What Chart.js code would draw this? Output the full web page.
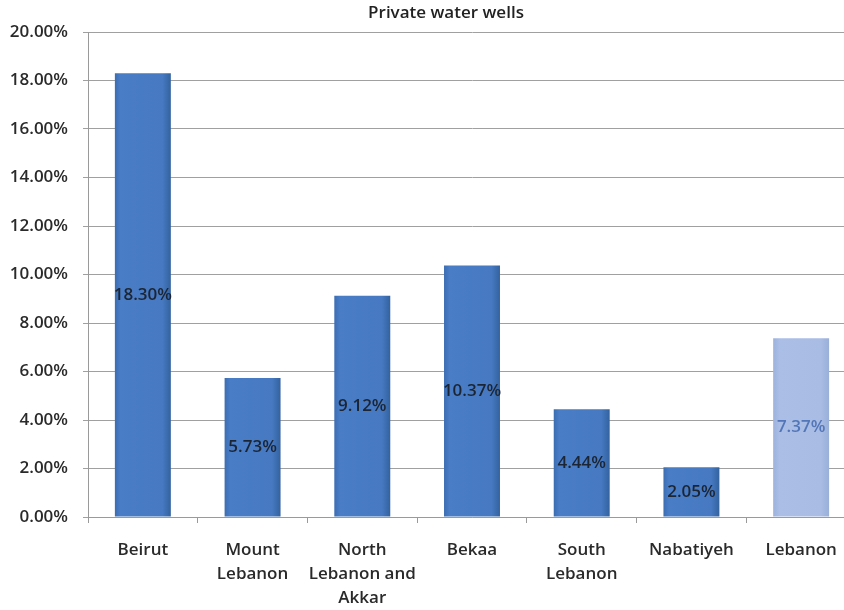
<!DOCTYPE html>
<html>
<head>
<meta charset="utf-8">
<script src="https://cdn.jsdelivr.net/npm/chart.js@4"></script>
<style>
  html, body { margin: 0; padding: 0; background: #fff; overflow: hidden; }
  #wrap { width: 844px; height: 610px; overflow: hidden; }
  #chart_wells { display: block; }
</style>
</head>
<body>
<!-- plot runs a little past the right edge of the frame -->
<div id="wrap"><canvas id="chart_wells" width="856" height="610"></canvas></div>
<script>
const chartTitle = 'Private water wells';
const regions = ['Beirut', ['Mount', 'Lebanon'], ['North', 'Lebanon and', 'Akkar'], 'Bekaa', ['South', 'Lebanon'], 'Nabatiyeh', 'Lebanon'];
const wellShare = [18.30, 5.73, 9.12, 10.37, 4.44, 2.05, 7.37];
const yTicks = [0, 2, 4, 6, 8, 10, 12, 14, 16, 18, 20];

const FONT = '"Open Sans", "Liberation Sans", sans-serif';
const lastIdx = wellShare.length - 1;

// horizontal shading on each bar, national average drawn lighter
function barFill(ctx) {
  const chart = ctx.chart;
  const xs = chart.scales.x;
  const flat = ctx.dataIndex === lastIdx ? '#a6bae2' : '#4679c0';
  if (!xs || ctx.dataIndex === undefined) return flat;
  const cx = xs.getPixelForValue(ctx.dataIndex);
  if (!isFinite(cx)) return flat;
  const half = 28;
  const g = chart.ctx.createLinearGradient(cx - half, 0, cx + half, 0);
  if (ctx.dataIndex === lastIdx) {
    g.addColorStop(0, '#9db2dc');
    g.addColorStop(0.12, '#aabee6');
    g.addColorStop(0.85, '#a8bce4');
    g.addColorStop(1, '#9aafd8');
  } else {
    g.addColorStop(0, '#3b6db2');
    g.addColorStop(0.1, '#497dc6');
    g.addColorStop(0.85, '#4679c1');
    g.addColorStop(1, '#33629f');
  }
  return g;
}

// value text in the middle of each bar
const centerLabels = {
  id: 'centerLabels',
  afterDatasetsDraw(chart) {
    const ctx = chart.ctx;
    const meta = chart.getDatasetMeta(0);
    ctx.save();
    ctx.font = '600 17px ' + FONT;
    ctx.textAlign = 'center';
    ctx.textBaseline = 'middle';
    meta.data.forEach((bar, i) => {
      const v = chart.data.datasets[0].data[i];
      ctx.fillStyle = i === lastIdx ? '#5376b8' : '#1c2533';
      ctx.fillText(v.toFixed(2) + '%', bar.x, (bar.y + bar.base) / 2);
    });
    ctx.restore();
  }
};

// heading sits a little left of the plot centre
const topTitle = {
  id: 'topTitle',
  afterDraw(chart) {
    const ctx = chart.ctx;
    ctx.save();
    ctx.font = '600 17px ' + FONT;
    ctx.fillStyle = '#222';
    ctx.textAlign = 'center';
    ctx.textBaseline = 'middle';
    ctx.fillText(chartTitle, 446, 13);
    ctx.restore();
  }
};

const ctx_wells = document.getElementById('chart_wells').getContext('2d');
const wells = new Chart(ctx_wells, {
  type: 'bar',
  data: {
    labels: regions,
    datasets: [{
      data: wellShare,
      backgroundColor: barFill,
      borderWidth: 0,
      categoryPercentage: 1,
      barPercentage: 0.51
    }]
  },
  options: {
    responsive: false,
    animation: false,
    layout: { padding: { left: 0, right: 0, top: 32, bottom: 0 } },
    plugins: {
      legend: { display: false },
      tooltip: { enabled: false },
      title: { display: false }
    },
    scales: {
      x: {
        grid: { drawOnChartArea: false, drawTicks: true, tickLength: 6, color: '#9a9a9a' },
        border: { color: '#9a9a9a' },
        ticks: {
          color: '#2a2a2a',
          font: { family: FONT, size: 17, weight: '600', lineHeight: 1.42 },
          padding: 15,
          maxRotation: 0,
          autoSkip: false
        },
        afterFit(scale) { scale.height = 93; }
      },
      y: {
        min: 0,
        max: 20,
        afterBuildTicks(scale) { scale.ticks = yTicks.map(v => ({ value: v })); },
        grid: { color: '#a0a0a0', tickLength: 5 },
        border: { color: '#9a9a9a' },
        ticks: {
          color: '#2a2a2a',
          font: { family: FONT, size: 17, weight: '600' },
          padding: 15,
          callback: v => v.toFixed(2) + '%'
        },
        afterFit(scale) { scale.width = 88; }
      }
    }
  },
  plugins: [centerLabels, topTitle]
});
</script>
</body>
</html>
